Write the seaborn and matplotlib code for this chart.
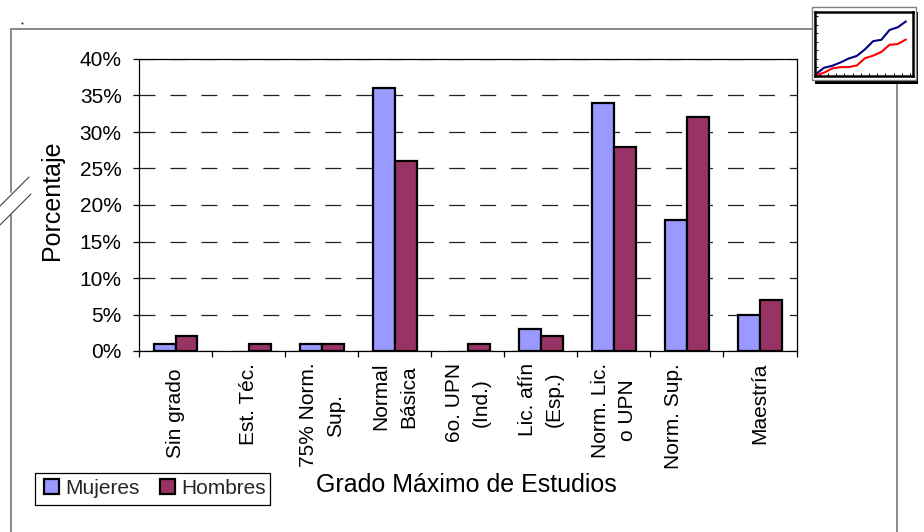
import numpy as np
import pandas as pd
import matplotlib
matplotlib.use("Agg")
import matplotlib.pyplot as plt
from matplotlib.lines import Line2D
from matplotlib.patches import Patch, Rectangle
import seaborn as sns

categorias = ["Sin grado ", "Est. Téc.", "75% Norm.\nSup.", "Normal\nBásica", "6o. UPN\n(Ind.)",
              "Lic. afín\n(Esp.)", "Norm. Lic.\no UPN", "Norm. Sup.\n ", "Maestría"]
mujeres = [1, 0, 1, 36, 0, 3, 34, 18, 5]
hombres = [2, 1, 1, 26, 1, 2, 28, 32, 7]
y_ticks = [0, 5, 10, 15, 20, 25, 30, 35, 40]
miniatura_azul = [6, 25, 31, 41, 53, 61, 81, 106, 110, 140, 148, 166]
miniatura_roja = [2, 10, 23, 27, 27, 32, 54, 62, 73, 95, 97, 111]

sns.set_theme(style="white")
plt.rcParams["font.family"] = ["Liberation Sans", "DejaVu Sans"]
plt.rcParams["lines.scale_dashes"] = False

W, H = 924, 532
fig = plt.figure(figsize=(W / 100, H / 100), dpi=100, facecolor="white")

def box(x0, y0, x1, y1):
    return [x0 / W, 1 - y1 / H, (x1 - x0) / W, (y1 - y0) / H]

def fline(xs, ys, color="#808080", lw=1.1, z=1):
    fig.add_artist(Line2D([x / W for x in xs], [1 - y / H for y in ys],
                          color=color, lw=lw, zorder=z))

# Marco exterior
fline([11, 11], [29, 192], lw=1.3)
fline([11, 11], [215, 532], lw=1.3)
fline([11, 812], [29, 29], lw=1.3)
fline([897, 897], [84, 532], lw=1.3)
fline([0, 29], [206, 177], color="#404040", lw=0.8)
fline([0, 31], [225, 194], color="#404040", lw=0.8)
fig.add_artist(Line2D([22 / W], [1 - 23 / H], marker="s", ms=0.5, color="#333333", lw=0))

# Gráfica principal
ax = fig.add_axes(box(139, 59, 796.5, 351))
df = pd.DataFrame({
    "Grado": categorias * 2,
    "Porcentaje": mujeres + hombres,
    "Sexo": ["Mujeres"] * 9 + ["Hombres"] * 9,
})
colores = {"Mujeres": "#9999FF", "Hombres": "#993366"}
sns.barplot(data=df, x="Grado", y="Porcentaje", hue="Sexo", palette=colores, width=0.6, gap=0,
            edgecolor="black", linewidth=1.6, saturation=1, legend=False, ax=ax, zorder=3)
for p in ax.patches:
    if p.get_height() == 0:
        p.set_visible(False)

ax.set_xlim(-0.5, 8.5)
ax.set_ylim(0, 40)
ax.set_yticks(y_ticks, [f"{v}%" for v in y_ticks])
ax.set_xticks(np.arange(-0.5, 9, 1), [""] * 10)
ax.set_xticks(np.arange(9), categorias, minor=True)
ax.tick_params(axis="x", which="major", length=4.5, width=0.9, color="black", bottom=True)
ax.tick_params(axis="x", which="minor", length=0, pad=8.5, labelsize=15, labelcolor="black")
ax.tick_params(axis="y", length=4.5, width=0.9, color="black", left=True, pad=8, labelsize=15,
               labelcolor="black")
for t in ax.get_xticklabels(minor=True):
    t.set_rotation(90)
    t.set_ha("center")
    t.set_va("top")
    t.set_multialignment("center")
    t.set_linespacing(1.55)
ax.yaxis.grid(True, color="#222222", lw=0.9, linestyle=(0, (11.5, 10.8)), zorder=0)
ax.set_axisbelow(True)
for s in ax.spines.values():
    s.set_visible(True)
    s.set_color("black")
    s.set_linewidth(0.9)

ax.set_xlabel("Grado Máximo de Estudios", fontsize=18, color="black")
ax.set_ylabel("Porcentaje", fontsize=18, color="black")
ax.xaxis.set_label_coords(466 / W, 1 - 485 / H, transform=fig.transFigure)
ax.yaxis.set_label_coords(52 / W, 1 - 200 / H, transform=fig.transFigure)
ax.xaxis.label.set_va("center")
ax.yaxis.label.set_va("center")

# Leyenda
manejadores = [Patch(facecolor=colores[k], edgecolor="black", linewidth=1.6, label=k) for k in colores]
fig.add_artist(Rectangle((36 / W, 1 - 506 / H), 235 / W, 32 / H, transform=fig.transFigure,
                         facecolor="#808080", edgecolor="none", zorder=4))
fig.add_artist(Rectangle((35 / W, 1 - 505 / H), 235 / W, 32 / H, transform=fig.transFigure,
                         facecolor="white", edgecolor="black", lw=0.9, zorder=4.5))
leg = fig.legend(handles=manejadores, ncol=2, loc="center", fontsize=15,
                 bbox_to_anchor=(155 / W, 1 - 488 / H), frameon=False,
                 handlelength=0.7, handleheight=0.7,
                 handletextpad=0.3, columnspacing=1.0, borderpad=0, borderaxespad=0)
leg.set_zorder(5)

# Miniatura decorativa
fig.add_artist(Rectangle((815 / W, 1 - 84 / H), 103 / W, 72 / H, transform=fig.transFigure,
                         facecolor="black", edgecolor="none", zorder=5))
fig.add_artist(Rectangle((812 / W, 1 - 80 / H), 104 / W, 73 / H, transform=fig.transFigure,
                         facecolor="white", edgecolor="#808080", lw=1, zorder=6))
mini = fig.add_axes(box(815, 11.5, 912.5, 76), zorder=7)
mini.plot(np.arange(12), miniatura_azul, color="#000080", lw=1.5)
mini.plot(np.arange(12), miniatura_roja, color="#FF0000", lw=1.5)
mini.set_xlim(-0.1, 11.8)
mini.set_ylim(0, 196)
mini.set_xticks(np.arange(0.5, 12, 1), [])
mini.set_yticks(np.arange(0, 196, 26), [])
mini.tick_params(direction="in", length=2.2, width=0.7, color="black", left=True, bottom=True)
for s in mini.spines.values():
    s.set_color("black")
    s.set_linewidth(1.8)

fig.savefig("out.png", dpi=100, facecolor="white")
